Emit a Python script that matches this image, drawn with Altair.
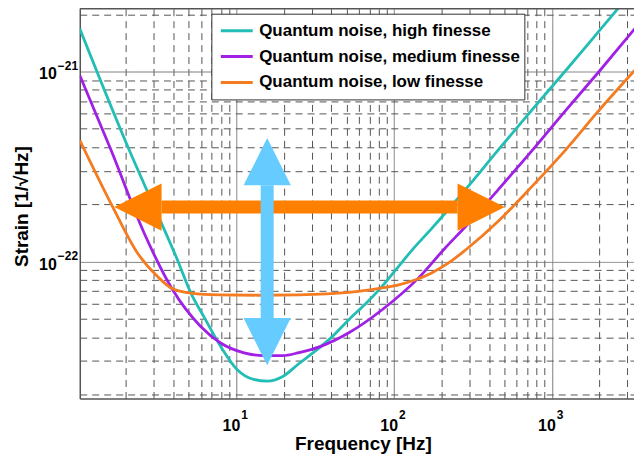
import altair as alt
import pandas as pd

# ---------------- data ----------------
series_names = [
    "Quantum noise, high finesse",
    "Quantum noise, medium finesse",
    "Quantum noise, low finesse",
]
series_colors = ["#22bdb5", "#a020e6", "#f47b20"]

freq_high = [1.019, 2.10, 3.02, 4.24, 5.16, 6.28, 7.96, 10.15, 12.9, 15.7, 19.6, 25.0,
             31.9, 40.6, 51.7, 66.0, 82.1, 102.5, 130, 174, 282, 459, 744, 1210, 1964, 3515]
strain_high = [1.68e-21, 3.85e-22, 1.94e-22, 1.02e-22, 6.83e-23, 5.07e-23, 3.58e-23, 2.70e-23,
               2.40e-23, 2.35e-23, 2.48e-23, 2.91e-23, 3.40e-23, 4.03e-23, 4.95e-23, 6.00e-23,
               7.25e-23, 9.05e-23, 1.15e-22, 1.50e-22, 2.38e-22, 3.88e-22, 6.25e-22, 1.00e-21,
               1.61e-21, 2.86e-21]

freq_medium = [1.02, 1.61, 2.61, 3.95, 5.95, 7.96, 11.2, 15.0, 19.6, 25.0, 34.3, 51.7, 84.0,
               143, 211, 282, 459, 744, 1210, 1992, 3618]
strain_medium = [9.53e-22, 3.85e-22, 1.41e-22, 7.11e-23, 4.56e-23, 3.73e-23, 3.31e-23, 3.20e-23,
                 3.20e-23, 3.32e-23, 3.58e-23, 4.22e-23, 5.58e-23, 8.21e-23, 1.18e-22, 1.52e-22,
                 2.40e-22, 3.81e-22, 6.17e-22, 1.00e-21, 1.81e-21]

freq_low = [1.02, 1.647, 2.37, 3.17, 3.95, 5.16, 7.81, 13.97, 25.0, 51.7, 82.1, 107.1, 137.1,
            173.0, 221.6, 283.8, 459, 741, 1215, 1964, 3618]
strain_low = [4.35e-22, 1.94e-22, 1.106e-22, 8.34e-23, 7.19e-23, 6.83e-23, 6.68e-23, 6.65e-23,
              6.68e-23, 6.88e-23, 7.25e-23, 7.55e-23, 8.02e-23, 8.72e-23, 9.84e-23, 1.151e-22,
              1.634e-22, 2.464e-22, 3.85e-22, 6.17e-22, 1.088e-21]

# arrows (shaft ends, in data units)
orange_arrow_freq = [3.36, 252.6]
orange_arrow_strain = 1.935e-22
blue_arrow_freq = 15.7
blue_arrow_strain = [2.52e-22, 5.05e-23]

# axes
x_domain = [1.019, 3316]
y_domain = [1.905e-23, 2.14e-21]
x_ticks = [2, 3, 4, 5, 6, 7, 8, 9, 10, 20, 30, 40, 50, 60, 70, 80, 90,
           100, 200, 300, 400, 500, 600, 700, 800, 900, 1000, 2000, 3000]
x_major = [10, 100, 1000]
x_major_base = ["10", "10", "10"]
x_major_exp = ["1", "2", "3"]
y_ticks = [2e-23, 3e-23, 4e-23, 5e-23, 6e-23, 7e-23, 8e-23, 9e-23,
           1e-22, 2e-22, 3e-22, 4e-22, 5e-22, 6e-22, 7e-22, 8e-22, 9e-22, 1e-21, 2e-21]
y_major = [1e-22, 1e-21]
y_major_base = ["10", "10"]
y_major_exp = ["\u221222", "\u221221"]

# ---------------- build tables ----------------
rows = []
for name, fs, hs in zip(series_names, [freq_high, freq_medium, freq_low],
                        [strain_high, strain_medium, strain_low]):
    for f, h in zip(fs, hs):
        rows.append({"series": name, "f": f, "h": h})
curves = pd.DataFrame(rows)

orange_df = pd.DataFrame({"f": [orange_arrow_freq[0]], "f2": [orange_arrow_freq[1]],
                          "h": [orange_arrow_strain]})
orange_heads = pd.DataFrame({"f": orange_arrow_freq, "h": [orange_arrow_strain] * 2,
                             "side": ["left", "right"]})
blue_df = pd.DataFrame({"f": [blue_arrow_freq], "h": [blue_arrow_strain[0]],
                        "h2": [blue_arrow_strain[1]]})
blue_heads = pd.DataFrame({"f": [blue_arrow_freq] * 2, "h": blue_arrow_strain,
                           "side": ["up", "down"]})
xlab_df = pd.DataFrame({"f": x_major, "base": x_major_base, "exp": x_major_exp})
ylab_df = pd.DataFrame({"h": y_major, "base": y_major_base, "exp": y_major_exp})

FN = "Liberation Sans, Arial, sans-serif"
W, H = 556, 391

x_major_test = " || ".join(f"datum.value == {v}" for v in x_major)
y_major_test = " || ".join(f"abs(datum.value - {v}) < {v * 1e-6}" for v in y_major)

xscale = alt.Scale(type="log", domain=x_domain, nice=False)
yscale = alt.Scale(type="log", domain=y_domain, nice=False, zero=False)

x_axis = alt.Axis(
    values=x_ticks, labels=False, title="Frequency [Hz]",
    grid=True, ticks=False, tickSize=0,
    gridDash={"condition": {"test": x_major_test, "value": [1, 0]}, "value": [7, 5]},
    gridColor={"condition": {"test": x_major_test, "value": "#7a7a7a"}, "value": "#555555"},
    gridWidth=1,
    domainColor="#555555", domainWidth=1.5,
    titleFont=FN, titleFontSize=19, titleFontWeight="bold", titleColor="black",
    titleX=284, titleY=51, titleBaseline="alphabetic", titleAlign="center",
)
y_axis = alt.Axis(
    values=y_ticks, labels=False, title="Strain [1/√Hz]",
    grid=True, ticks=False, tickSize=0,
    gridDash={"condition": {"test": y_major_test, "value": [1, 0]}, "value": [7, 5]},
    gridColor={"condition": {"test": y_major_test, "value": "#7a7a7a"}, "value": "#555555"},
    gridWidth=1,
    domainColor="#555555", domainWidth=1.5,
    titleFont=FN, titleFontSize=19, titleFontWeight="bold", titleColor="black",
    titleX=-58, titleY=198, titleAngle=-90, titleBaseline="middle", titleAlign="center",
)

lines = alt.Chart(curves).mark_line(interpolate="monotone", strokeWidth=2.8, clip=True).encode(
    x=alt.X("f:Q", scale=xscale, axis=x_axis),
    y=alt.Y("h:Q", scale=yscale, axis=y_axis),
    color=alt.Color(
        "series:N",
        scale=alt.Scale(domain=series_names, range=series_colors),
        legend=alt.Legend(
            title=None, orient="none", legendX=132, legendY=5,
            symbolType="stroke", symbolStrokeWidth=3, symbolSize=1024,
            symbolOffset=4, labelOffset=5, clipHeight=26, rowPadding=0,
            labelFont=FN, labelFontSize=17, labelFontWeight="bold", labelColor="black",
            labelLimit=400, padding=4, strokeColor="#333333", fillColor="white",
        ),
    ),
    order=alt.value(0),
)

ORANGE = "#ff8000"
BLUE = "#66ccff"
HEAD = 2250

orange_shaft = alt.Chart(orange_df).mark_rule(strokeWidth=13, color=ORANGE, strokeCap="butt").encode(
    x=alt.X("f:Q", scale=xscale), x2="f2:Q", y=alt.Y("h:Q", scale=yscale))
orange_head = alt.Chart(orange_heads).mark_point(filled=True, opacity=1, color=ORANGE, strokeWidth=0, size=HEAD).encode(
    x=alt.X("f:Q", scale=xscale), y=alt.Y("h:Q", scale=yscale),
    shape=alt.Shape("side:N", scale=alt.Scale(domain=["left", "right"],
                                              range=["M0,-1L-2,0L0,1Z", "M0,-1L2,0L0,1Z"]), legend=None))
blue_shaft = alt.Chart(blue_df).mark_rule(strokeWidth=13, color=BLUE, strokeCap="butt").encode(
    x=alt.X("f:Q", scale=xscale), y=alt.Y("h:Q", scale=yscale), y2="h2:Q")
blue_head = alt.Chart(blue_heads).mark_point(filled=True, opacity=1, color=BLUE, strokeWidth=0, size=HEAD).encode(
    x=alt.X("f:Q", scale=xscale), y=alt.Y("h:Q", scale=yscale),
    shape=alt.Shape("side:N", scale=alt.Scale(domain=["up", "down"],
                                              range=["M-1,0L0,-2L1,0Z", "M-1,0L0,2L1,0Z"]), legend=None))

top_border = alt.Chart(orange_df).mark_rule(color="#555555", strokeWidth=1.5).encode(
    x=alt.value(0), x2=alt.value(W), y=alt.value(0))

# tick labels written as base + superscript exponent
xlab_base = alt.Chart(xlab_df).mark_text(
    font=FN, fontSize=16, fontWeight="bold", color="black", align="right", baseline="alphabetic", dx=4
).encode(x=alt.X("f:Q", scale=xscale), y=alt.value(H + 33), text="base:N")
xlab_exp = alt.Chart(xlab_df).mark_text(
    font=FN, fontSize=12, fontWeight="bold", color="black", align="left", baseline="alphabetic", dx=5
).encode(x=alt.X("f:Q", scale=xscale), y=alt.value(H + 21), text="exp:N")
ylab_base = alt.Chart(ylab_df).mark_text(
    font=FN, fontSize=16, fontWeight="bold", color="black", align="right", baseline="alphabetic", dy=8
).encode(y=alt.Y("h:Q", scale=yscale), x=alt.value(-23), text="base:N")
ylab_exp = alt.Chart(ylab_df).mark_text(
    font=FN, fontSize=12, fontWeight="bold", color="black", align="left", baseline="alphabetic", dy=-2
).encode(y=alt.Y("h:Q", scale=yscale), x=alt.value(-22), text="exp:N")

chart = alt.layer(
    lines, orange_shaft, orange_head, blue_shaft, blue_head, top_border,
    xlab_base, xlab_exp, ylab_base, ylab_exp,
).resolve_scale(
    shape="independent"
).properties(
    width=W, height=H,
    padding={"left": 72, "top": 0, "right": 0, "bottom": 56},
    autosize=alt.AutoSizeParams(type="none"),
    background="white",
).configure_view(stroke=None)

chart.save("out.html", embed_options={"renderer": "svg", "actions": False})
